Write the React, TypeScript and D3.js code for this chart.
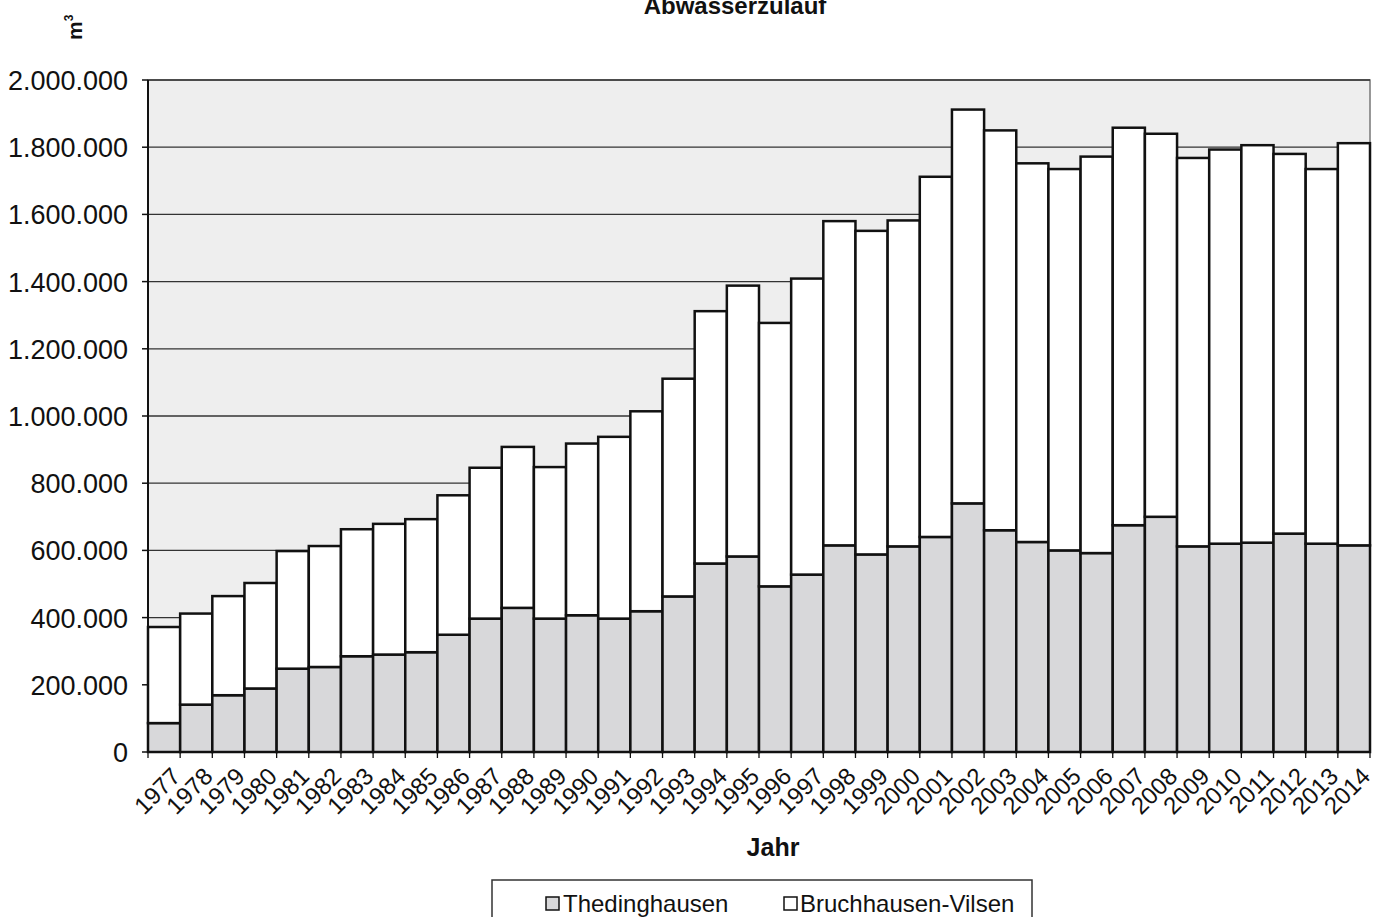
import React from "react";
import * as d3 from "d3";

const years = [
  "1977","1978","1979","1980","1981","1982","1983","1984","1985","1986",
  "1987","1988","1989","1990","1991","1992","1993","1994","1995","1996",
  "1997","1998","1999","2000","2001","2002","2003","2004","2005","2006",
  "2007","2008","2009","2010","2011","2012","2013","2014",
];

const thedinghausen = [
  86000, 141000, 169000, 189000, 248000, 253000, 285000, 290000, 297000, 349000,
  397000, 429000, 397000, 407000, 397000, 419000, 463000, 561000, 582000, 493000,
  528000, 615000, 588000, 612000, 640000, 740000, 660000, 625000, 600000, 592000,
  675000, 700000, 612000, 620000, 623000, 650000, 620000, 615000,
];

const totals = [
  372000, 412000, 464000, 503000, 598000, 613000, 663000, 679000, 693000, 764000,
  846000, 908000, 848000, 918000, 938000, 1014000, 1111000, 1312000, 1388000, 1277000,
  1409000, 1580000, 1551000, 1582000, 1712000, 1912000, 1850000, 1752000, 1735000, 1772000,
  1858000, 1840000, 1768000, 1793000, 1806000, 1780000, 1735000, 1812000,
];

const bruchhausen = totals.map((t, i) => t - thedinghausen[i]);

const yTicks = [0, 200000, 400000, 600000, 800000, 1000000, 1200000, 1400000, 1600000, 1800000, 2000000];

const fmt = (v: number) => d3.format(",")(v).replace(/,/g, ".");

export default function App() {
  const W = 1375, H = 917;
  const left = 148, right = 1370, top = 80, bottom = 752;
  const x = d3.scaleBand<string>().domain(years).range([left, right]).padding(0);
  const y = d3.scaleLinear().domain([0, 2000000]).range([bottom, top]);
  const font = "Arial, 'Liberation Sans', sans-serif";

  return (
    <svg width={W} height={H} style={{ position: "absolute", left: 0, top: 0, display: "block", background: "#fff" }}>
      {/* title */}
      <text x={735} y={14} textAnchor="middle" fontFamily={font} fontWeight="bold" fontSize={24} fill="#111">
        Abwasserzulauf
      </text>
      {/* unit */}
      <text transform="translate(82,40) rotate(-90)" fontFamily={font} fontWeight="bold" fontSize={21} fill="#111">
        m<tspan fontSize={12} dy={-9}>3</tspan>
      </text>
      {/* plot background */}
      <rect x={left} y={top} width={right - left} height={bottom - top} fill="#eeeeee" stroke="#777" strokeWidth={1.5} />
      {/* gridlines */}
      {yTicks.slice(1).map((t) => (
        <line key={t} x1={left} x2={right} y1={y(t)} y2={y(t)} stroke="#333" strokeWidth={1.3} />
      ))}
      {/* bars */}
      {years.map((yr, i) => (
        <g key={yr}>
          <rect
            x={x(yr)!}
            y={y(thedinghausen[i])}
            width={x.bandwidth()}
            height={y(0) - y(thedinghausen[i])}
            fill="#d8d8da"
            stroke="#111"
            strokeWidth={2.5}
          />
          <rect
            x={x(yr)!}
            y={y(thedinghausen[i] + bruchhausen[i])}
            width={x.bandwidth()}
            height={y(thedinghausen[i]) - y(thedinghausen[i] + bruchhausen[i])}
            fill="#ffffff"
            stroke="#111"
            strokeWidth={2.5}
          />
        </g>
      ))}
      {/* y axis */}
      <line x1={left} x2={left} y1={top} y2={bottom} stroke="#111" strokeWidth={2} />
      {yTicks.map((t) => (
        <g key={t}>
          <line x1={left - 6} x2={left} y1={y(t)} y2={y(t)} stroke="#111" strokeWidth={1.5} />
          <text x={128} y={y(t) + 10} textAnchor="end" fontFamily={font} fontSize={27} fill="#111">
            {fmt(t)}
          </text>
        </g>
      ))}
      {/* x axis */}
      <line x1={left} x2={right} y1={bottom} y2={bottom} stroke="#111" strokeWidth={2} />
      {years.map((yr) => (
        <line key={"t" + yr} x1={x(yr)!} x2={x(yr)!} y1={bottom} y2={bottom + 6} stroke="#111" strokeWidth={1.3} />
      ))}
      <line x1={right} x2={right} y1={bottom} y2={bottom + 6} stroke="#111" strokeWidth={1.3} />
      {years.map((yr) => {
        const cx = x(yr)! + x.bandwidth() / 2 + 6;
        const cy = bottom + 14;
        return (
          <text
            key={"l" + yr}
            transform={`translate(${cx},${cy}) rotate(-45)`}
            textAnchor="end"
            dy="0.7em"
            fontFamily={font}
            fontSize={24}
            fill="#111"
          >
            {yr}
          </text>
        );
      })}
      <text x={773} y={856} textAnchor="middle" fontFamily={font} fontWeight="bold" fontSize={25} fill="#111">
        Jahr
      </text>
      {/* legend */}
      <rect x={492} y={880} width={540} height={45} fill="#fff" stroke="#333" strokeWidth={1.5} />
      <rect x={546} y={897} width={13} height={13} fill="#d8d8da" stroke="#111" strokeWidth={1.5} />
      <text x={563} y={912} fontFamily={font} fontSize={24} fill="#111">Thedinghausen</text>
      <rect x={784} y={897} width={13} height={13} fill="#fff" stroke="#111" strokeWidth={1.5} />
      <text x={800} y={912} fontFamily={font} fontSize={24} fill="#111">Bruchhausen-Vilsen</text>
    </svg>
  );
}
